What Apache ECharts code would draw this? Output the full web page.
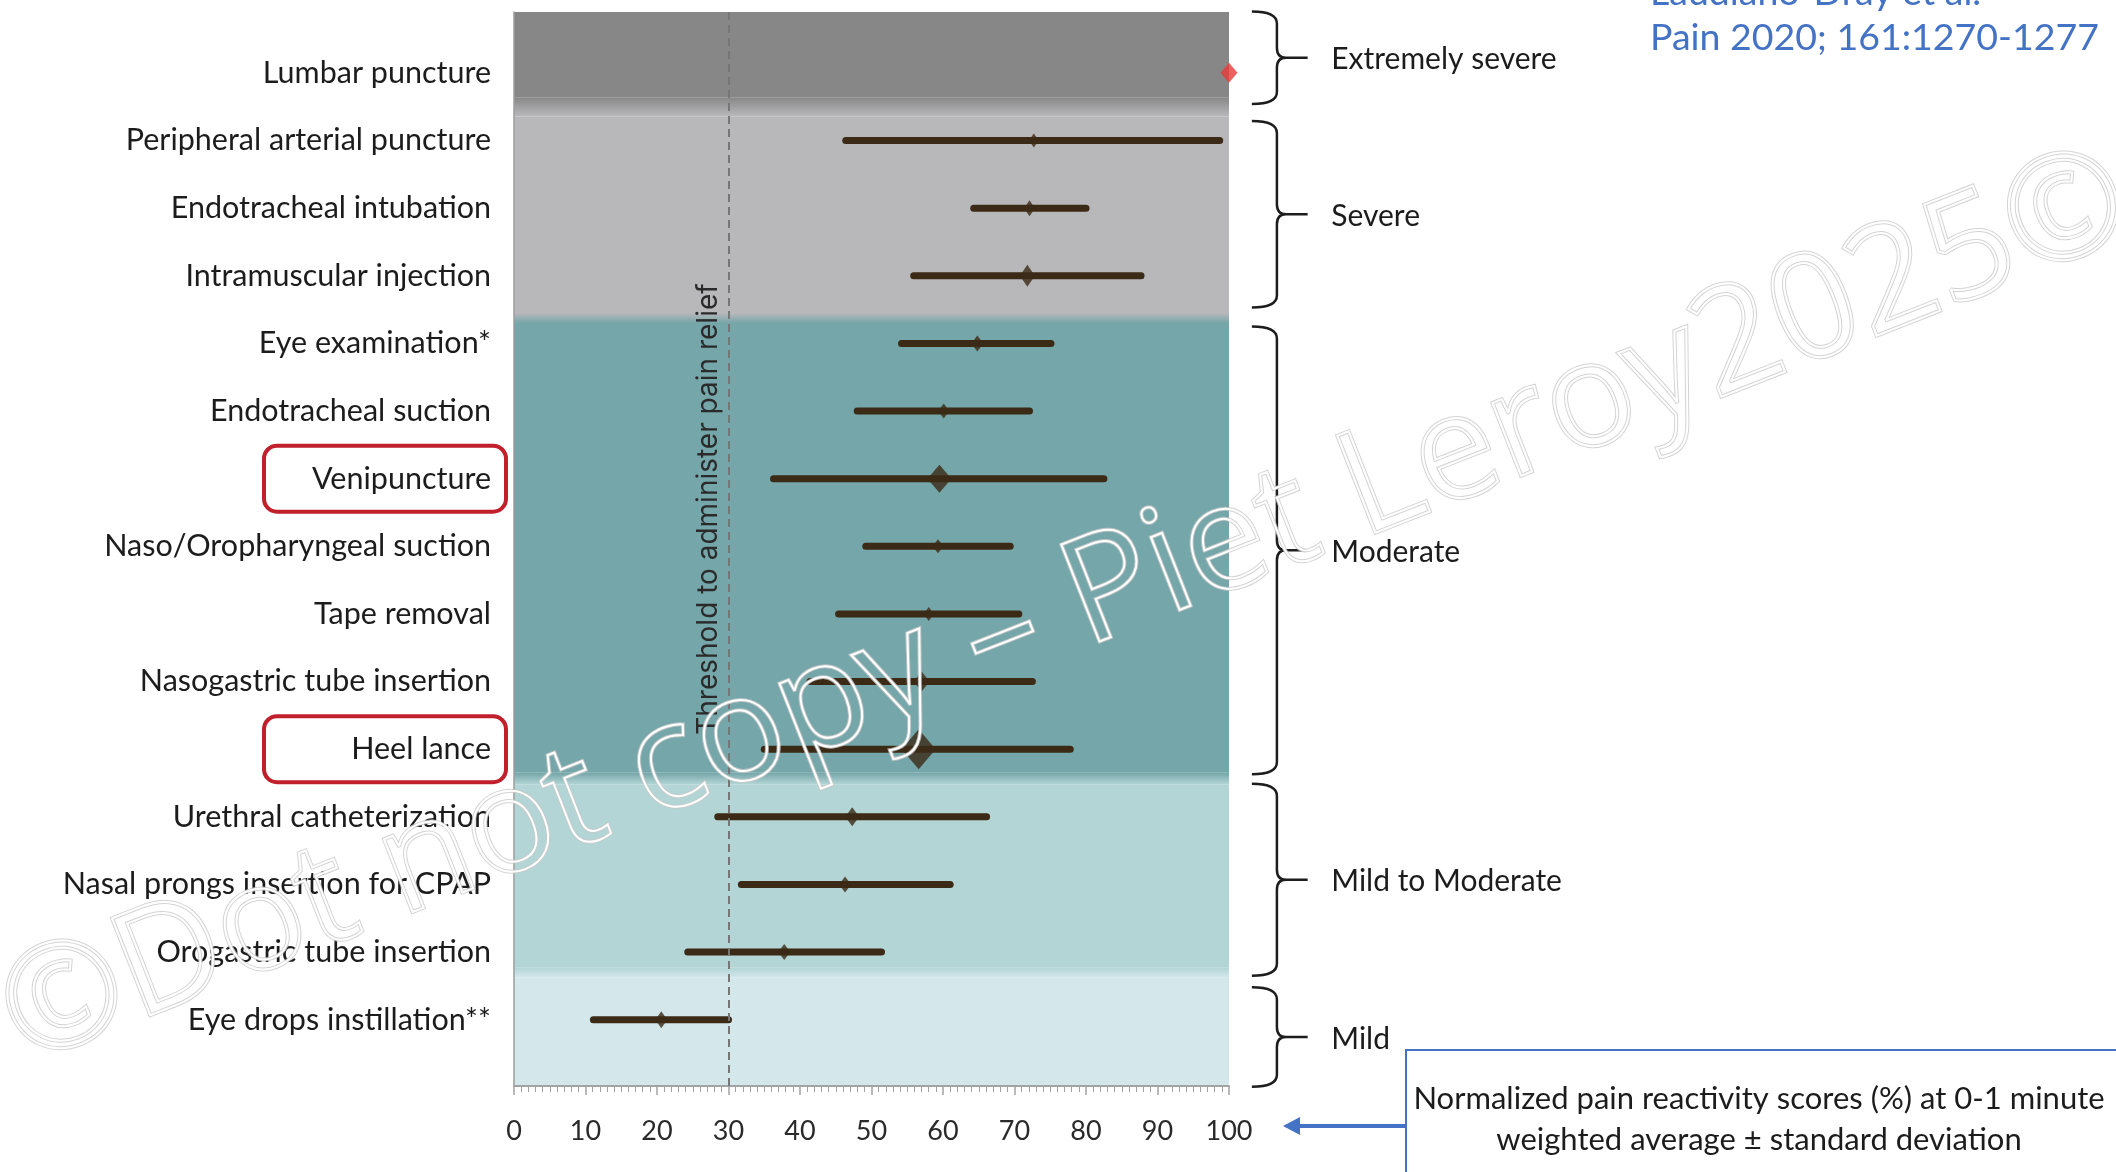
<!DOCTYPE html>
<html>
<head>
<meta charset="utf-8">
<script src="https://cdn.jsdelivr.net/npm/echarts@6/dist/echarts.min.js"></script>
<style>
html,body{margin:0;padding:0;background:#ffffff;}
#chart{width:2116px;height:1172px;}
</style>
</head>
<body>
<div id="chart"></div>
<script>
// ---------------- data ----------------
const categories = [
  'Lumbar puncture',
  'Peripheral arterial puncture',
  'Endotracheal intubation',
  'Intramuscular injection',
  'Eye examination*',
  'Endotracheal suction',
  'Venipuncture',
  'Naso/Oropharyngeal suction',
  'Tape removal',
  'Nasogastric tube insertion',
  'Heel lance',
  'Urethral catheterization',
  'Nasal prongs insertion for CPAP',
  'Orogastric tube insertion',
  'Eye drops instillation**'
];
const meanScore = [100, 72.7, 72.1, 71.8, 64.8, 60.1, 59.5, 59.3, 58.0, 57.0, 56.6, 47.3, 46.3, 37.8, 20.6];
const lowerSD   = [null, 46.4, 64.3, 55.9, 54.2, 48.0, 36.3, 49.2, 45.4, 41.4, 35.0, 28.5, 31.8, 24.3, 11.1];
const upperSD   = [null, 98.7, 80.0, 87.7, 75.1, 72.1, 82.5, 69.4, 70.6, 72.5, 77.8, 66.1, 61.0, 51.4, 30.0];
const highlighted = ['Venipuncture', 'Heel lance'];
const xTickLabels = ['0','10','20','30','40','50','60','70','80','90','100'];
const thresholdValue = 30;
const thresholdLabel = 'Threshold to administer pain relief';
const severityGroups = ['Extremely severe', 'Severe', 'Moderate', 'Mild to Moderate', 'Mild'];
const groupFirstRow = [0, 1, 4, 11, 14];
const groupLastRow  = [0, 3, 10, 13, 14];
const citationAuthors = 'Laudiano-Dray et al.';
const citationRef = 'Pain 2020; 161:1270-1277';
const axisCaption = 'Normalized pain reactivity scores (%) at 0-1 minute\nweighted average \u00b1 standard deviation';
const watermarkText = '\u00a9Dot not copy \u2013 Piet Leroy2025\u00a9';

// ---------------- styles / layout ----------------
const markerSize = [[17,20],[10,14],[11,16],[15,22],[12,16],[11,15],[24,28],[11,14],[10,14],[16,20],[34,40],[14,19],[12,16],[12,16],[12,17]];
const braceTopPad = [0.907, 0.29, 0.25, 0.49, 0.48];
const braceBotPad = [0.46, 0.47, 0.37, 0.35, 0.99];
const Y_MIN = -0.9, Y_MAX = 14.98;
const LABEL_CENTER_ROW = 6.45;
const BAR_COLOR = '#3b2a16';
const FONT = 'Lato';
const TEXT_COLOR = '#1c1c1c';

const chart = echarts.init(document.getElementById('chart'), null, {renderer: 'canvas'});

const barData = [];
categories.forEach((c, i) => {
  if (lowerSD[i] != null && upperSD[i] != null) barData.push([lowerSD[i], upperSD[i], i]);
});
const meanData = categories.map((c, i) => ({
  value: [meanScore[i], i],
  symbolSize: markerSize[i],
  itemStyle: {color: i === 0 ? '#e8393a' : BAR_COLOR}
}));
const braceData = severityGroups.map((g, k) => [groupFirstRow[k] - braceTopPad[k], groupLastRow[k] + braceBotPad[k]]);

function grad(c1, c2) {
  return {type: 'linear', x: 0, y: 0, x2: 0, y2: 1, colorStops: [{offset: 0, color: c1}, {offset: 1, color: c2}]};
}
const C0 = '#878787', C1 = '#b8b8bb', C2 = '#75a6a9', C3 = '#b3d5d5', C4 = '#d4e8ec';
const bands = [
  [Y_MIN, 0.36, C0], [0.36, 0.64, grad(C0, C1)],
  [0.64, 3.55, C1], [3.55, 3.70, grad(C1, C2)],
  [3.70, 10.35, C2], [10.35, 10.52, grad(C2, C3)],
  [10.52, 13.23, C3], [13.23, 13.38, grad(C3, C4)],
  [13.38, Y_MAX, C4]
].map(b => [{yAxis: b[0], itemStyle: {color: b[2]}}, {yAxis: b[1]}]);

const option = {
  backgroundColor: '#ffffff',
  animation: false,
  grid: {left: 514, right: 887, top: 12, bottom: 86, containLabel: false},
  xAxis: {
    type: 'value', min: 0, max: 100, interval: 10,
    axisLine: {show: true, onZero: false, lineStyle: {color: '#a3a3a3', width: 2}},
    axisTick: {show: true, length: 9, lineStyle: {color: '#a3a3a3', width: 1.5}},
    minorTick: {show: true, splitNumber: 10, length: 6, lineStyle: {color: '#a3a3a3', width: 1}},
    splitLine: {show: false},
    axisLabel: {
      margin: 32, fontFamily: FONT, fontSize: 27, color: '#2a2a2a',
      formatter: v => xTickLabels[Math.round(v / 10)]
    }
  },
  yAxis: {
    type: 'value', min: Y_MIN, max: Y_MAX, inverse: true,
    axisLine: {show: true, onZero: false, lineStyle: {color: '#9c9c9c', width: 1.5}},
    axisTick: {show: false},
    splitLine: {show: false},
    axisLabel: {
      show: true,
      customValues: categories.map((c, i) => i),
      margin: 8,
      fontFamily: FONT, fontSize: 30.5, color: TEXT_COLOR,
      formatter: v => {
        const name = categories[Math.round(v)];
        if (name === undefined) return '';
        return highlighted.indexOf(name) >= 0 ? '{b|' + name + '}' : '{n|' + name + '}';
      },
      rich: {
        n: {fontFamily: FONT, fontSize: 30.5, color: TEXT_COLOR, padding: [0, 15, 0, 0]},
        b: {
          fontFamily: FONT, fontSize: 30.5, color: TEXT_COLOR,
          width: 217, height: 38, lineHeight: 38, align: 'right',
          padding: [14, 15, 14, 10],
          borderColor: '#c01f2b', borderWidth: 4, borderRadius: 13
        }
      }
    }
  },
  series: [
    {
      name: 'bands', type: 'line', data: [], z: 0, silent: true,
      markArea: {silent: true, z: 0, data: bands}
    },
    {
      name: 'sd', type: 'custom', z: 2, clip: false,
      encode: {x: [0, 1], y: 2},
      data: barData,
      renderItem: function (params, api) {
        const p1 = api.coord([api.value(0), api.value(2)]);
        const p2 = api.coord([api.value(1), api.value(2)]);
        return {
          type: 'line',
          shape: {x1: p1[0], y1: p1[1], x2: p2[0], y2: p2[1]},
          style: {stroke: BAR_COLOR, lineWidth: 7, lineCap: 'round'}
        };
      }
    },
    {
      name: 'threshold', type: 'line', data: [], z: 3, silent: true,
      markLine: {
        silent: true, symbol: 'none', z: 3,
        lineStyle: {type: [8, 5], color: '#767676', width: 2},
        label: {show: false},
        data: [
          [{coord: [thresholdValue, Y_MIN]}, {coord: [thresholdValue, Y_MAX]}]
        ]
      }
    },
    {
      name: 'thresholdLabel', type: 'custom', z: 3, clip: false, silent: true,
      encode: {x: 0, y: 1},
      data: [[thresholdValue, LABEL_CENTER_ROW]],
      renderItem: function (params, api) {
        const p = api.coord([api.value(0), api.value(1)]);
        return {
          type: 'text', x: p[0] - 6, y: p[1], rotation: Math.PI / 2,
          style: {
            text: thresholdLabel, fontFamily: 'Inter', fontSize: 28, fill: '#2a2a2a',
            align: 'center', verticalAlign: 'bottom'
          }
        };
      }
    },
    {
      name: 'mean', type: 'scatter', z: 4, clip: false, symbol: 'diamond',
      data: meanData
    },
    {
      name: 'braces', type: 'custom', z: 4, clip: false, silent: true,
      encode: {x: -1, y: [0, 1]},
      data: braceData,
      renderItem: function (params, api) {
        const k = params.dataIndex;
        const yT = api.coord([0, api.value(0)])[1];
        const yB = api.coord([0, api.value(1)])[1];
        const yM = (yT + yB) / 2;
        const xl = api.coord([106.7, 0])[0];
        const xe = api.coord([103.2, 0])[0];
        const xt = api.coord([111.0, 0])[0];
        const xlab = api.coord([114.3, 0])[0];
        const r = 12, rm = 10;
        const d = 'M' + xe + ' ' + yT + ' Q' + xl + ' ' + yT + ' ' + xl + ' ' + (yT + r) +
          ' L' + xl + ' ' + (yM - rm) + ' Q' + xl + ' ' + yM + ' ' + (xl + 9) + ' ' + yM +
          ' L' + xt + ' ' + yM +
          ' M' + (xl + 9) + ' ' + yM + ' Q' + xl + ' ' + yM + ' ' + xl + ' ' + (yM + rm) +
          ' L' + xl + ' ' + (yB - r) + ' Q' + xl + ' ' + yB + ' ' + xe + ' ' + yB;
        return {
          type: 'group',
          children: [
            {type: 'path', shape: {pathData: d}, style: {stroke: '#1d1d1d', lineWidth: 2.5, fill: 'none'}},
            {type: 'text', x: xlab, y: yM + 2, style: {
              text: severityGroups[k], fontFamily: FONT, fontSize: 30, fill: TEXT_COLOR,
              align: 'left', verticalAlign: 'middle'
            }}
          ]
        };
      }
    }
  ],
  graphic: [
    {type: 'text', x: 1650, y: -7, z: 10, style: {text: citationAuthors, fontFamily: FONT, fontSize: 37.5, fill: '#4472c4', align: 'left', verticalAlign: 'middle'}},
    {type: 'text', x: 1650, y: 38, z: 10, style: {text: citationRef, fontFamily: FONT, fontSize: 37.5, fill: '#4472c4', align: 'left', verticalAlign: 'middle'}},
    {type: 'rect', z: 10, shape: {x: 1406, y: 1050, width: 740, height: 150}, style: {fill: '#ffffff', stroke: '#4472c4', lineWidth: 2}},
    {type: 'text', x: 1759, y: 1119, z: 11, style: {text: axisCaption, fontFamily: FONT, fontSize: 31, lineHeight: 41, fill: TEXT_COLOR, align: 'center', verticalAlign: 'middle'}},
    {type: 'line', z: 10, shape: {x1: 1406, y1: 1126, x2: 1296, y2: 1126}, style: {stroke: '#4472c4', lineWidth: 4}},
    {type: 'polygon', z: 10, shape: {points: [[1283, 1126], [1300, 1117], [1300, 1135]]}, style: {fill: '#4472c4'}},
    {type: 'text', x: 1066, y: 610, rotation: 0.375, z: 50, silent: true, style: {text: watermarkText, fontFamily: 'Open Sans', fontSize: 146, fill: 'rgba(0,0,0,0)', stroke: 'rgba(200,200,200,0.8)', lineWidth: 4, align: 'center', verticalAlign: 'middle'}},
    {type: 'text', x: 1066, y: 610, rotation: 0.375, z: 51, silent: true, style: {text: watermarkText, fontFamily: 'Open Sans', fontSize: 146, fill: 'rgba(0,0,0,0)', stroke: '#ffffff', lineWidth: 2, align: 'center', verticalAlign: 'middle'}}
  ]
};
chart.setOption(option);
</script>
</body>
</html>
